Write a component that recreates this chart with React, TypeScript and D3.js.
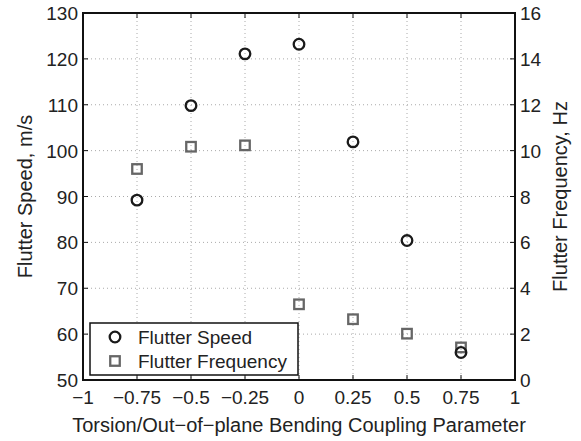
import React, { useEffect, useRef } from 'react';
import * as d3 from 'd3';

// coupling parameter values (x)
const couplingParams = [-0.75, -0.5, -0.25, 0, 0.25, 0.5, 0.75];
// flutter speed, m/s (left axis)
const flutterSpeed = [89.2, 109.8, 121.1, 123.2, 101.9, 80.4, 56.0];
// flutter frequency, Hz (right axis)
const flutterFreq = [9.2, 10.17, 10.23, 3.3, 2.65, 2.02, 1.42];

const xTicks = [-1, -0.75, -0.5, -0.25, 0, 0.25, 0.5, 0.75, 1];
const xTickLabels = ['−1', '−0.75', '−0.5', '−0.25', '0', '0.25', '0.5', '0.75', '1'];
const yLeftTicks = [50, 60, 70, 80, 90, 100, 110, 120, 130];
const yRightTicks = [0, 2, 4, 6, 8, 10, 12, 14, 16];

const legendLabels = ['Flutter Speed', 'Flutter Frequency'];

const App: React.FC = () => {
  const svgRef = useRef<SVGSVGElement>(null);

  useEffect(() => {
    if (!svgRef.current) return;
    const width = 581;
    const height = 441;
    const left = 83, right = 515, top = 13, bottom = 380;
    const font = 'Liberation Sans, Arial, Helvetica, sans-serif';
    const fs = 19;

    const svg = d3.select(svgRef.current);
    svg.selectAll('*').remove();
    svg.attr('width', width).attr('height', height);

    svg.append('rect').attr('width', width).attr('height', height).attr('fill', '#fff');

    const x = d3.scaleLinear().domain([-1, 1]).range([left, right]);
    const yL = d3.scaleLinear().domain([50, 130]).range([bottom, top]);
    const yR = d3.scaleLinear().domain([0, 16]).range([bottom, top]);

    // grid
    const grid = svg.append('g')
      .attr('stroke', '#aaa')
      .attr('stroke-width', 1)
      .attr('stroke-dasharray', '1,3');
    xTicks.slice(1, -1).forEach(t => {
      grid.append('line').attr('x1', x(t)).attr('x2', x(t)).attr('y1', top).attr('y2', bottom);
    });
    yLeftTicks.slice(1, -1).forEach(t => {
      grid.append('line').attr('x1', left).attr('x2', right).attr('y1', yL(t)).attr('y2', yL(t));
    });

    // ticks (inward)
    const tl = 5;
    const ticks = svg.append('g').attr('stroke', '#111').attr('stroke-width', 1);
    xTicks.forEach(t => {
      ticks.append('line').attr('x1', x(t)).attr('x2', x(t)).attr('y1', bottom).attr('y2', bottom - tl);
      ticks.append('line').attr('x1', x(t)).attr('x2', x(t)).attr('y1', top).attr('y2', top + tl);
    });
    yLeftTicks.forEach(t => {
      ticks.append('line').attr('x1', left).attr('x2', left + tl).attr('y1', yL(t)).attr('y2', yL(t));
    });
    yRightTicks.forEach(t => {
      ticks.append('line').attr('x1', right).attr('x2', right - tl).attr('y1', yR(t)).attr('y2', yR(t));
    });

    // box
    svg.append('rect')
      .attr('x', left).attr('y', top)
      .attr('width', right - left).attr('height', bottom - top)
      .attr('fill', 'none').attr('stroke', '#111').attr('stroke-width', 2);

    // tick labels
    const labels = svg.append('g')
      .attr('font-family', font).attr('font-size', fs).attr('fill', '#222');
    xTicks.forEach((t, i) => {
      labels.append('text').attr('x', x(t)).attr('y', bottom + 24)
        .attr('text-anchor', 'middle').text(xTickLabels[i]);
    });
    yLeftTicks.forEach(t => {
      labels.append('text').attr('x', left - 5).attr('y', yL(t) + 7)
        .attr('text-anchor', 'end').text(String(t));
    });
    yRightTicks.forEach(t => {
      labels.append('text').attr('x', right + 5).attr('y', yR(t) + 7)
        .attr('text-anchor', 'start').text(String(t));
    });

    // axis titles
    const titles = labels.append('g').attr('font-size', 20);
    titles.append('text')
      .attr('x', x(0)).attr('y', 432)
      .attr('text-anchor', 'middle')
      .text('Torsion/Out−of−plane Bending Coupling Parameter');
    titles.append('text')
      .attr('transform', `translate(32,${(top + bottom) / 2}) rotate(-90)`)
      .attr('text-anchor', 'middle')
      .text('Flutter Speed, m/s');
    titles.append('text')
      .attr('transform', `translate(567,${(top + bottom) / 2}) rotate(-90)`)
      .attr('text-anchor', 'middle')
      .text('Flutter Frequency, Hz');

    // frequency squares
    const sq = 9.5;
    svg.append('g').selectAll('rect')
      .data(couplingParams)
      .join('rect')
      .attr('x', (d) => x(d) - sq / 2)
      .attr('y', (d, i) => yR(flutterFreq[i]) - sq / 2)
      .attr('width', sq).attr('height', sq)
      .attr('fill', 'none').attr('stroke', '#666').attr('stroke-width', 2.3);

    // speed circles
    svg.append('g').selectAll('circle')
      .data(couplingParams)
      .join('circle')
      .attr('cx', (d) => x(d))
      .attr('cy', (d, i) => yL(flutterSpeed[i]))
      .attr('r', 5.3)
      .attr('fill', 'none').attr('stroke', '#1a1a1a').attr('stroke-width', 2.3);

    // legend
    const lg = svg.append('g');
    lg.append('rect')
      .attr('x', 90).attr('y', 323).attr('width', 208).attr('height', 52)
      .attr('fill', '#fff').attr('stroke', '#111').attr('stroke-width', 1.5);
    lg.append('circle').attr('cx', 115).attr('cy', 337).attr('r', 5.3)
      .attr('fill', 'none').attr('stroke', '#1a1a1a').attr('stroke-width', 2.3);
    lg.append('rect').attr('x', 115 - sq / 2).attr('y', 361 - sq / 2).attr('width', sq).attr('height', sq)
      .attr('fill', 'none').attr('stroke', '#666').attr('stroke-width', 2.3);
    legendLabels.forEach((l, i) => {
      lg.append('text').attr('x', 138).attr('y', 344 + i * 24)
        .attr('font-family', font).attr('font-size', fs).attr('fill', '#222').text(l);
    });
  }, []);

  return (
    <div style={{ position: 'absolute', left: 0, top: 0 }}>
      <svg ref={svgRef} style={{ display: 'block' }} />
    </div>
  );
};

export default App;
